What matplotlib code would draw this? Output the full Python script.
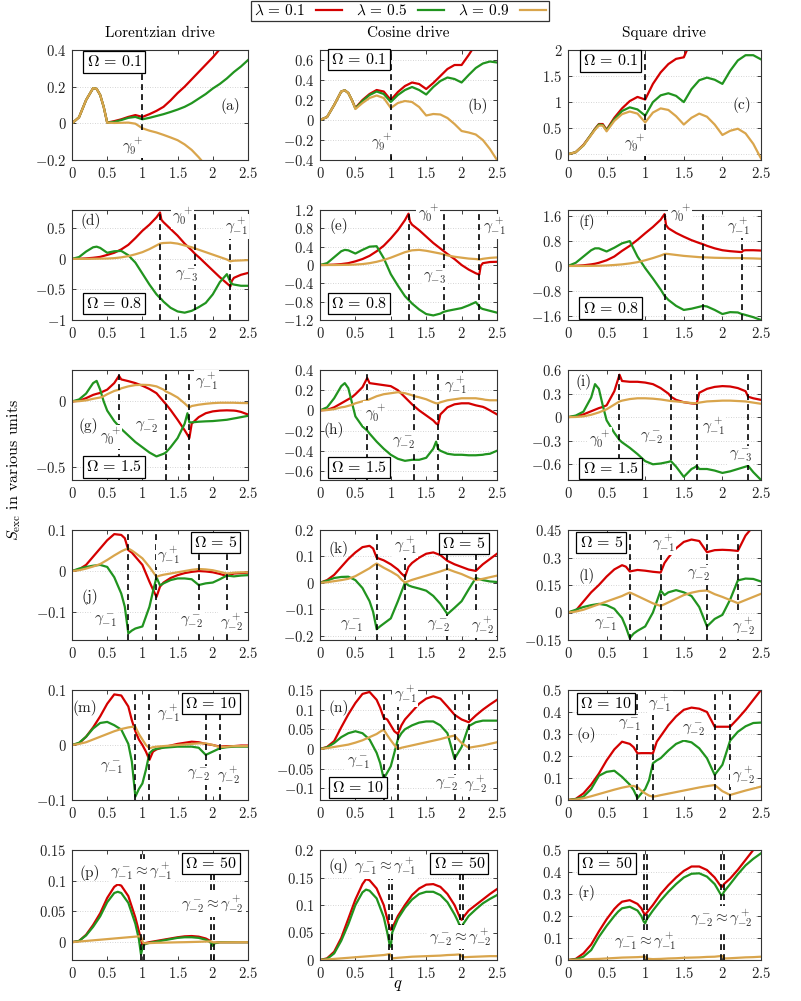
import matplotlib
matplotlib.use("Agg")
import matplotlib.pyplot as plt
from matplotlib.lines import Line2D

plt.rcParams['font.family'] = 'serif'
plt.rcParams['font.serif'] = ['cmr10']
plt.rcParams['mathtext.fontset'] = 'cm'
plt.rcParams['axes.formatter.use_mathtext'] = True

RED = '#d40000'
GREEN = '#21941f'
GOLD = '#d9a54c'

# ---------------- data ----------------
# row 1 (Omega = 0.1)
GRID_ROW1 = [0, 0.1, 0.2, 0.3, 0.35, 0.4, 0.45, 0.5, 0.6, 0.7, 0.8, 0.9, 1.0, 1.1, 1.2,
             1.3, 1.4, 1.5, 1.6, 1.7, 1.8, 1.9, 2.0, 2.1, 2.2, 2.3, 2.4, 2.5]
A_RED = [0, 0.033, 0.127, 0.192, 0.188, 0.155, 0.09, 0.004, 0.012, 0.022, 0.035, 0.045, 0.035, 0.05,
         0.068, 0.09, 0.125, 0.165, 0.2, 0.24, 0.28, 0.32, 0.36, 0.405, 0.46, 0.52, 0.58, 0.65]
A_GREEN = [0, 0.033, 0.127, 0.192, 0.188, 0.155, 0.09, 0.004, 0.008, 0.018, 0.03, 0.035, 0.022, 0.03,
           0.04, 0.05, 0.062, 0.075, 0.09, 0.11, 0.135, 0.16, 0.19, 0.215, 0.245, 0.28, 0.31, 0.345]
A_GOLD = [0, 0.033, 0.127, 0.192, 0.188, 0.155, 0.09, 0.004, 0.002, 0.003, 0.004, -0.002, -0.027, -0.04,
          -0.05, -0.063, -0.077, -0.092, -0.115, -0.145, -0.185, -0.23, -0.28, -0.33, -0.38, -0.43, -0.48, -0.53]
B_RED = [0, 0.03, 0.15, 0.285, 0.297, 0.27, 0.2, 0.12, 0.2, 0.26, 0.3, 0.285, 0.2, 0.28,
         0.34, 0.375, 0.36, 0.31, 0.37, 0.44, 0.51, 0.55, 0.55, 0.65, 0.76, 0.87, 0.98, 1.1]
B_GREEN = [0, 0.03, 0.15, 0.285, 0.297, 0.27, 0.2, 0.115, 0.19, 0.25, 0.285, 0.26, 0.18, 0.25,
           0.3, 0.33, 0.3, 0.255, 0.33, 0.39, 0.425, 0.41, 0.375, 0.45, 0.52, 0.565, 0.585, 0.575]
B_GOLD = [0, 0.03, 0.15, 0.285, 0.297, 0.27, 0.2, 0.11, 0.17, 0.22, 0.245, 0.22, 0.12, 0.17,
          0.19, 0.18, 0.13, 0.045, 0.06, 0.055, 0.02, -0.04, -0.11, -0.125, -0.145, -0.2, -0.29, -0.4]
C_RED = [0, 0.04, 0.18, 0.38, 0.49, 0.58, 0.58, 0.47, 0.7, 0.88, 1.02, 1.1, 1.05, 1.35,
         1.57, 1.73, 1.83, 1.86, 2.2, 2.5, 2.8, 3.0, 3.2, 3.4, 3.6, 3.8, 4.0, 4.2]
C_GREEN = [0, 0.04, 0.17, 0.38, 0.48, 0.57, 0.56, 0.46, 0.67, 0.83, 0.9, 0.86, 0.74, 1.0,
           1.13, 1.17, 1.12, 1.0, 1.25, 1.42, 1.47, 1.43, 1.35, 1.6, 1.8, 1.9, 1.9, 1.82]
C_GOLD = [0, 0.04, 0.17, 0.37, 0.47, 0.55, 0.55, 0.44, 0.64, 0.77, 0.82, 0.78, 0.61, 0.8,
          0.88, 0.85, 0.73, 0.57, 0.7, 0.78, 0.72, 0.57, 0.37, 0.45, 0.49, 0.4, 0.2, -0.08]

# row 2 (Omega = 0.8)
GRID_ROW2 = [0, 0.1, 0.2, 0.3, 0.35, 0.4, 0.5, 0.6, 0.7, 0.8, 0.9, 1.0, 1.1, 1.2, 1.25, 1.27,
             1.3, 1.4, 1.5, 1.6, 1.7, 1.75, 1.8, 1.9, 2.0, 2.1, 2.2, 2.25, 2.27, 2.3, 2.4, 2.5]
D_RED = [0, 0.002, 0.008, 0.018, 0.025, 0.033, 0.065, 0.1, 0.155, 0.23, 0.34, 0.46, 0.56, 0.68, 0.76, 0.64,
         0.6, 0.49, 0.38, 0.25, 0.14, 0.08, 0.03, -0.08, -0.19, -0.3, -0.4, -0.45, -0.36, -0.31, -0.26, -0.23]
D_GREEN = [0, 0.03, 0.12, 0.19, 0.2, 0.18, 0.1, 0.125, 0.13, 0.06, -0.06, -0.24, -0.42, -0.58, -0.64, -0.66,
           -0.7, -0.8, -0.86, -0.88, -0.85, -0.82, -0.79, -0.72, -0.58, -0.38, -0.25, -0.38, -0.41, -0.42, -0.44, -0.44]
D_GOLD = [0, 0, 0, 0.002, 0.003, 0.004, 0.006, 0.012, 0.025, 0.045, 0.075, 0.11, 0.16, 0.22, 0.25, 0.255,
          0.26, 0.265, 0.25, 0.22, 0.19, 0.17, 0.15, 0.11, 0.07, 0.03, -0.01, -0.04, -0.035, -0.03, -0.025, -0.02]
E_RED = [0, 0.002, 0.008, 0.02, 0.03, 0.04, 0.08, 0.13, 0.2, 0.3, 0.42, 0.58, 0.76, 0.98, 1.12, 0.95,
         0.88, 0.76, 0.62, 0.48, 0.36, 0.3, 0.24, 0.13, 0.0, -0.1, -0.18, -0.21, -0.02, 0.04, 0.065, 0.07]
E_GREEN = [0, 0.04, 0.17, 0.3, 0.33, 0.32, 0.25, 0.33, 0.4, 0.41, 0.15, -0.2, -0.45, -0.68, -0.76, -0.79,
           -0.84, -0.97, -1.07, -1.1, -1.06, -1.02, -1.0, -0.97, -0.94, -0.88, -0.81, -0.9, -0.94, -0.96, -1.0, -1.04]
E_GOLD = [0, 0, 0, 0.002, 0.003, 0.004, 0.01, 0.02, 0.04, 0.07, 0.11, 0.16, 0.22, 0.28, 0.3, 0.31,
          0.32, 0.33, 0.31, 0.28, 0.25, 0.23, 0.21, 0.18, 0.16, 0.14, 0.13, 0.12, 0.125, 0.135, 0.155, 0.165]
F_RED = [0, 0.005, 0.02, 0.05, 0.07, 0.1, 0.18, 0.3, 0.48, 0.64, 0.83, 1.04, 1.24, 1.47, 1.65, 1.3,
         1.2, 1.05, 0.93, 0.82, 0.73, 0.69, 0.64, 0.56, 0.5, 0.47, 0.45, 0.44, 0.49, 0.5, 0.5, 0.49]
F_GREEN = [0, 0.1, 0.3, 0.5, 0.56, 0.56, 0.46, 0.58, 0.72, 0.79, 0.3, -0.07, -0.4, -0.75, -0.95, -1.0,
           -1.08, -1.27, -1.4, -1.36, -1.3, -1.27, -1.29, -1.4, -1.53, -1.47, -1.48, -1.53, -1.54, -1.56, -1.63, -1.72]
F_GOLD = [0, 0, 0, 0.003, 0.005, 0.007, 0.015, 0.03, 0.05, 0.08, 0.12, 0.18, 0.25, 0.33, 0.38, 0.385,
          0.38, 0.35, 0.32, 0.3, 0.28, 0.275, 0.27, 0.26, 0.255, 0.25, 0.25, 0.25, 0.25, 0.245, 0.24, 0.23]

# row 3 (Omega = 1.5)
GRID_ROW3 = [0, 0.1, 0.2, 0.3, 0.35, 0.4, 0.45, 0.5, 0.6, 0.667, 0.7, 0.8, 0.9, 1.0, 1.1, 1.2, 1.3,
             1.333, 1.4, 1.5, 1.6, 1.64, 1.667, 1.7, 1.8, 1.9, 2.0, 2.1, 2.2, 2.3, 2.333, 2.4, 2.5]
G_RED = [0, 0.005, 0.025, 0.05, 0.058, 0.065, 0.078, 0.09, 0.14, 0.195, 0.168, 0.155, 0.14, 0.12, 0.095, 0.063, 0.0,
         -0.02, -0.065, -0.14, -0.22, -0.255, -0.28, -0.17, -0.12, -0.09, -0.076, -0.07, -0.068, -0.07, -0.072, -0.08, -0.1]
G_GREEN = [0, 0.015, 0.06, 0.14, 0.157, 0.09, 0.0, -0.07, -0.15, -0.19, -0.21, -0.26, -0.31, -0.35, -0.39, -0.42, -0.4,
           -0.39, -0.35, -0.28, -0.17, -0.09, -0.16, -0.16, -0.155, -0.152, -0.15, -0.145, -0.14, -0.13, -0.127, -0.12, -0.11]
G_GOLD = [0, 0.002, 0.008, 0.02, 0.025, 0.03, 0.04, 0.055, 0.08, 0.09, 0.1, 0.115, 0.125, 0.127, 0.125, 0.115, 0.09,
          0.076, 0.06, 0.03, -0.015, -0.035, -0.046, -0.035, -0.025, -0.018, -0.013, -0.01, -0.01, -0.01, -0.011, -0.012, -0.013]
H_RED = [0, 0.005, 0.03, 0.07, 0.09, 0.11, 0.13, 0.16, 0.23, 0.32, 0.27, 0.26, 0.25, 0.24, 0.2, 0.13, 0.06,
         0.04, 0.0, -0.05, -0.1, -0.13, -0.14, -0.04, 0.03, 0.06, 0.07, 0.07, 0.05, 0.035, 0.025, 0.0, -0.04]
H_GREEN = [0, 0.03, 0.12, 0.24, 0.27, 0.22, 0.08, -0.06, -0.16, -0.2, -0.23, -0.31, -0.38, -0.44, -0.48, -0.5, -0.49,
           -0.49, -0.49, -0.47, -0.38, -0.31, -0.38, -0.4, -0.43, -0.44, -0.44, -0.445, -0.445, -0.44, -0.435, -0.43, -0.4]
H_GOLD = [0, 0.003, 0.012, 0.03, 0.035, 0.045, 0.055, 0.07, 0.09, 0.1, 0.11, 0.14, 0.16, 0.17, 0.18, 0.17, 0.15,
          0.14, 0.13, 0.11, 0.08, 0.07, 0.07, 0.08, 0.1, 0.11, 0.12, 0.12, 0.12, 0.11, 0.105, 0.1, 0.1]
I_RED = [0, 0.01, 0.035, 0.075, 0.095, 0.115, 0.13, 0.15, 0.33, 0.54, 0.46, 0.45, 0.45, 0.44, 0.42, 0.37, 0.3,
         0.26, 0.22, 0.19, 0.175, 0.172, 0.17, 0.31, 0.36, 0.385, 0.395, 0.39, 0.37, 0.33, 0.26, 0.24, 0.22]
I_GREEN = [0, 0.02, 0.07, 0.25, 0.42, 0.36, 0.15, -0.04, -0.2, -0.29, -0.32, -0.39, -0.47, -0.56, -0.6, -0.59, -0.57,
           -0.56, -0.63, -0.76, -0.66, -0.64, -0.62, -0.66, -0.66, -0.68, -0.71, -0.69, -0.66, -0.63, -0.62, -0.7, -0.8]
I_GOLD = [0, 0.002, 0.01, 0.03, 0.045, 0.06, 0.08, 0.1, 0.16, 0.2, 0.21, 0.23, 0.24, 0.24, 0.235, 0.225, 0.21,
          0.205, 0.2, 0.19, 0.18, 0.178, 0.175, 0.185, 0.2, 0.205, 0.21, 0.21, 0.205, 0.2, 0.195, 0.185, 0.17]

# row 4 (Omega = 5)
GRID_ROW4 = [0, 0.1, 0.2, 0.3, 0.4, 0.5, 0.6, 0.7, 0.75, 0.8, 0.85, 0.9, 1.0, 1.1, 1.15, 1.2, 1.25,
             1.3, 1.4, 1.5, 1.6, 1.7, 1.8, 1.9, 2.0, 2.1, 2.2, 2.3, 2.4, 2.5]
J_RED = [0, 0.004, 0.015, 0.035, 0.055, 0.075, 0.09, 0.088, 0.08, 0.051, 0.045, 0.035, 0.015, -0.026, -0.045,
         -0.063, -0.038, -0.028, -0.017, -0.01, -0.005, -0.002, 0.0, -0.001, -0.003, -0.007, -0.012, -0.006, -0.005, -0.004]
J_GREEN = [0, 0.006, 0.01, 0.013, 0.015, 0.01, -0.015, -0.055, -0.087, -0.152, -0.145, -0.14, -0.135, -0.087, -0.05,
           -0.015, -0.035, -0.03, -0.022, -0.018, -0.018, -0.02, -0.034, -0.03, -0.028, -0.02, -0.011, -0.013, -0.011, -0.01]
J_GOLD = [0, 0.002, 0.006, 0.011, 0.017, 0.027, 0.038, 0.048, 0.052, 0.055, 0.05, 0.044, 0.031, 0.01, -0.002,
          -0.014, -0.011, -0.009, -0.006, -0.003, 0.0, 0.003, 0.005, 0.004, 0.002, -0.002, -0.006, -0.004, -0.003, -0.003]
K_RED = [0, 0.01, 0.03, 0.06, 0.09, 0.115, 0.135, 0.14, 0.13, 0.095, 0.09, 0.085, 0.07, 0.05, 0.035,
         0.023, 0.06, 0.075, 0.095, 0.11, 0.115, 0.105, 0.083, 0.07, 0.06, 0.05, 0.045, 0.07, 0.09, 0.11]
K_GREEN = [0, 0.008, 0.018, 0.022, 0.023, 0.01, -0.02, -0.07, -0.11, -0.176, -0.165, -0.155, -0.135, -0.07, -0.035,
           0.0, -0.01, -0.015, -0.022, -0.03, -0.05, -0.08, -0.119, -0.095, -0.07, -0.025, 0.018, 0.01, 0.005, 0.003]
K_GOLD = [0, 0.002, 0.006, 0.01, 0.015, 0.025, 0.04, 0.055, 0.065, 0.073, 0.065, 0.057, 0.043, 0.027, 0.012,
          0.001, 0.006, 0.011, 0.019, 0.027, 0.035, 0.043, 0.052, 0.042, 0.033, 0.021, 0.01, 0.015, 0.021, 0.027]
L_RED = [0, 0.01, 0.06, 0.11, 0.15, 0.196, 0.235, 0.258, 0.25, 0.224, 0.228, 0.232, 0.228, 0.222, 0.22,
         0.218, 0.27, 0.3, 0.35, 0.385, 0.398, 0.39, 0.329, 0.34, 0.342, 0.34, 0.336, 0.42, 0.47, 0.52]
L_GREEN = [0, 0.015, 0.03, 0.04, 0.047, 0.04, 0.02, -0.03, -0.08, -0.14, -0.115, -0.1, -0.076, 0.0, 0.06,
           0.12, 0.095, 0.11, 0.122, 0.11, 0.09, 0.03, -0.076, -0.035, -0.013, 0.07, 0.175, 0.185, 0.183, 0.169]
L_GOLD = [0, 0.005, 0.015, 0.03, 0.045, 0.06, 0.075, 0.09, 0.1, 0.109, 0.1, 0.09, 0.07, 0.05, 0.043,
          0.036, 0.045, 0.055, 0.075, 0.095, 0.108, 0.117, 0.12, 0.1, 0.085, 0.068, 0.051, 0.068, 0.085, 0.102]

# row 5 (Omega = 10)
GRID_ROW5 = [0, 0.1, 0.2, 0.3, 0.4, 0.5, 0.6, 0.7, 0.8, 0.85, 0.9, 0.95, 1.0, 1.05, 1.1, 1.15, 1.2,
             1.3, 1.4, 1.5, 1.6, 1.7, 1.8, 1.9, 2.0, 2.1, 2.2, 2.3, 2.4, 2.5]
M_RED = [0, 0.003, 0.015, 0.032, 0.052, 0.075, 0.092, 0.09, 0.07, 0.045, 0.025, 0.01, 0.0, -0.012, -0.027,
         -0.012, -0.008, -0.004, -0.001, 0.002, 0.004, 0.006, 0.005, 0.002, 0.0, -0.003, -0.002, -0.002, -0.001, -0.001]
M_GREEN = [0, 0.004, 0.015, 0.03, 0.04, 0.042, 0.036, 0.028, 0.002, -0.03, -0.094, -0.08, -0.07, -0.045, -0.015,
           -0.009, -0.007, -0.005, -0.004, -0.003, -0.003, -0.003, -0.005, -0.018, -0.012, -0.006, -0.004, -0.003, -0.003, -0.003]
M_GOLD = [0, 0.002, 0.005, 0.01, 0.015, 0.02, 0.025, 0.029, 0.032, 0.033, 0.033, 0.02, 0.01, 0.0, -0.006,
          -0.004, -0.003, -0.002, -0.001, 0.0, 0.001, 0.002, 0.003, 0.003, 0.0, -0.004, -0.003, -0.002, -0.002, -0.002]
N_RED = [0, 0.005, 0.02, 0.055, 0.088, 0.117, 0.14, 0.145, 0.125, 0.105, 0.079, 0.075, 0.06, 0.045, 0.038,
         0.06, 0.075, 0.095, 0.115, 0.128, 0.134, 0.128, 0.108, 0.087, 0.075, 0.068, 0.085, 0.1, 0.113, 0.125]
N_GREEN = [0, 0.004, 0.015, 0.03, 0.04, 0.045, 0.04, 0.024, -0.01, -0.036, -0.076, -0.06, -0.044, -0.01, 0.025,
           0.04, 0.05, 0.06, 0.067, 0.07, 0.07, 0.06, 0.04, -0.025, 0.005, 0.058, 0.068, 0.072, 0.072, 0.072]
N_GOLD = [0, 0.002, 0.005, 0.008, 0.011, 0.016, 0.022, 0.03, 0.038, 0.044, 0.049, 0.035, 0.022, 0.01, 0.0,
          0.003, 0.005, 0.009, 0.013, 0.017, 0.021, 0.025, 0.03, 0.034, 0.015, 0.003, 0.006, 0.009, 0.013, 0.017]
O_RED = [0, 0.005, 0.03, 0.07, 0.12, 0.18, 0.23, 0.265, 0.255, 0.24, 0.212, 0.213, 0.213, 0.213, 0.212,
         0.265, 0.29, 0.34, 0.38, 0.41, 0.42, 0.415, 0.4, 0.333, 0.333, 0.333, 0.37, 0.41, 0.455, 0.5]
O_GREEN = [0, 0.004, 0.015, 0.05, 0.11, 0.128, 0.133, 0.105, 0.07, 0.045, 0.008, 0.03, 0.05, 0.09, 0.167,
           0.18, 0.19, 0.225, 0.255, 0.27, 0.262, 0.235, 0.19, 0.114, 0.16, 0.27, 0.31, 0.335, 0.35, 0.352]
O_GOLD = [0, 0.002, 0.008, 0.017, 0.027, 0.037, 0.047, 0.056, 0.063, 0.064, 0.058, 0.042, 0.03, 0.02, 0.015,
          0.018, 0.022, 0.029, 0.036, 0.043, 0.05, 0.057, 0.063, 0.068, 0.04, 0.023, 0.033, 0.043, 0.052, 0.061]

# row 6 (Omega = 50)
GRID_ROW6 = [0, 0.1, 0.2, 0.3, 0.4, 0.5, 0.6, 0.65, 0.7, 0.8, 0.9, 0.95, 0.98, 1.0, 1.02, 1.1, 1.2,
             1.3, 1.4, 1.5, 1.6, 1.7, 1.8, 1.9, 1.95, 1.98, 2.0, 2.02, 2.1, 2.2, 2.3, 2.4, 2.5]
P_RED = [0, 0.002, 0.012, 0.028, 0.047, 0.072, 0.09, 0.094, 0.092, 0.075, 0.04, 0.018, 0.004, -0.004, -0.002, 0.0,
         0.002, 0.004, 0.006, 0.008, 0.0095, 0.01, 0.009, 0.006, 0.003, 0.0, -0.003, -0.001, 0.0, 0.0, 0.0, 0.0, 0.0]
P_GREEN = [0, 0.002, 0.011, 0.025, 0.042, 0.065, 0.08, 0.082, 0.08, 0.064, 0.03, 0.005, -0.02, -0.01, -0.004, -0.001,
           0.001, 0.003, 0.005, 0.007, 0.008, 0.008, 0.007, 0.004, 0.001, -0.002, -0.006, -0.002, 0.0, 0.0, 0.0, 0.0, 0.0]
P_GOLD = [0, 0.001, 0.002, 0.003, 0.004, 0.005, 0.006, 0.0065, 0.007, 0.008, 0.009, 0.0095, 0.009, 0.002, -0.002, -0.0015,
          -0.001, -0.0008, -0.0005, -0.0002, 0.0, 0.0003, 0.0006, 0.001, 0.0012, 0.001, 0.0, -0.0004, -0.0003, -0.0002, -0.0001, 0.0, 0.0]
Q_RED = [0, 0.003, 0.015, 0.04, 0.075, 0.11, 0.138, 0.147, 0.145, 0.13, 0.1, 0.075, 0.06, 0.055, 0.058, 0.08,
         0.1, 0.118, 0.13, 0.137, 0.138, 0.133, 0.12, 0.1, 0.085, 0.076, 0.073, 0.077, 0.09, 0.1, 0.11, 0.12, 0.129]
Q_GREEN = [0, 0.002, 0.012, 0.035, 0.065, 0.1, 0.123, 0.128, 0.126, 0.112, 0.078, 0.05, 0.03, 0.024, 0.05, 0.075,
           0.095, 0.11, 0.12, 0.124, 0.124, 0.118, 0.105, 0.083, 0.07, 0.06, 0.058, 0.065, 0.08, 0.092, 0.103, 0.111, 0.118]
Q_GOLD = [0, 0.001, 0.002, 0.003, 0.004, 0.005, 0.006, 0.0065, 0.007, 0.008, 0.009, 0.01, 0.011, 0.009, 0.003, 0.004,
          0.005, 0.006, 0.0065, 0.007, 0.0075, 0.008, 0.009, 0.0095, 0.01, 0.01, 0.007, 0.005, 0.0055, 0.006, 0.0065, 0.007, 0.007]
R_RED = [0, 0.005, 0.03, 0.07, 0.13, 0.185, 0.232, 0.25, 0.265, 0.272, 0.255, 0.235, 0.215, 0.205, 0.215, 0.25,
         0.3, 0.34, 0.375, 0.405, 0.425, 0.425, 0.409, 0.375, 0.35, 0.335, 0.333, 0.345, 0.37, 0.41, 0.455, 0.5, 0.54]
R_GREEN = [0, 0.003, 0.015, 0.045, 0.105, 0.155, 0.2, 0.22, 0.235, 0.242, 0.225, 0.2, 0.175, 0.167, 0.185, 0.225,
           0.27, 0.31, 0.345, 0.375, 0.392, 0.394, 0.379, 0.345, 0.315, 0.297, 0.295, 0.31, 0.345, 0.39, 0.43, 0.46, 0.485]
R_GOLD = [0, 0.001, 0.002, 0.004, 0.005, 0.007, 0.009, 0.01, 0.011, 0.012, 0.013, 0.014, 0.015, 0.015, 0.006, 0.004,
          0.005, 0.007, 0.008, 0.01, 0.011, 0.012, 0.014, 0.015, 0.017, 0.018, 0.018, 0.007, 0.008, 0.01, 0.012, 0.013, 0.015]

OMEGAS = ['0.1', '0.8', '1.5', '5', '10', '50']
COLUMN_TITLES = ['Lorentzian drive', 'Cosine drive', 'Square drive']
LEGEND_LABELS = [r'$\lambda\,=\,0.1$', r'$\lambda\,=\,0.5$', r'$\lambda\,=\,0.9$']
XTICKS = [0, 0.5, 1, 1.5, 2, 2.5]

G9P = r'$\gamma_9^+$'
G0P = r'$\gamma_0^+$'
GM1P = r'$\gamma_{-1}^+$'
GM1M = r'$\gamma_{-1}^-$'
GM2P = r'$\gamma_{-2}^+$'
GM2M = r'$\gamma_{-2}^-$'
GM3M = r'$\gamma_{-3}^-$'
APPROX1 = r'$\gamma_{-1}^- \approx \gamma_{-1}^+$'
APPROX2 = r'$\gamma_{-2}^- \approx \gamma_{-2}^+$'

# panel layout / annotation specs
PANELS = [
    # row 1
    dict(tag='a', x=GRID_ROW1, d=(A_RED, A_GREEN, A_GOLD), ylim=(-0.2, 0.4), yt=[-0.2, 0, 0.2, 0.4],
         vl=[1.0], om=(0.6, 0.335), tg=(2.25, 0.095), gm=[(G9P, 0.86, -0.125)]),
    dict(tag='b', x=GRID_ROW1, d=(B_RED, B_GREEN, B_GOLD), ylim=(-0.4, 0.7), yt=[-0.4, -0.2, 0, 0.2, 0.4, 0.6],
         vl=[1.0], om=(0.55, 0.605), tg=(2.23, 0.14), gm=[(G9P, 0.86, -0.22)]),
    dict(tag='c', x=GRID_ROW1, d=(C_RED, C_GREEN, C_GOLD), ylim=(-0.11, 2.0), yt=[0, 0.5, 1, 1.5, 2],
         vl=[1.0], om=(0.55, 1.79), tg=(2.25, 0.95), gm=[(G9P, 0.86, 0.2)]),
    # row 2
    dict(tag='d', x=GRID_ROW2, d=(D_RED, D_GREEN, D_GOLD), ylim=(-1.0, 0.8), yt=[-1, -0.5, 0, 0.5],
         vl=[1.25, 1.75, 2.25], om=(0.6, -0.73), tg=(0.26, 0.62),
         gm=[(G0P, 1.57, 0.69), (GM3M, 1.63, -0.27), (GM1P, 2.33, 0.53)]),
    dict(tag='e', x=GRID_ROW2, d=(E_RED, E_GREEN, E_GOLD), ylim=(-1.2, 1.2),
         yt=[-1.2, -0.8, -0.4, 0, 0.4, 0.8, 1.2],
         vl=[1.25, 1.75, 2.25], om=(0.55, -0.84), tg=(0.26, 0.84),
         gm=[(G0P, 1.53, 1.12), (GM3M, 1.62, -0.27), (GM1P, 2.47, 0.84)]),
    dict(tag='f', x=GRID_ROW2, d=(F_RED, F_GREEN, F_GOLD), ylim=(-1.72, 1.78), yt=[-1.6, -0.8, 0, 0.8, 1.6],
         vl=[1.25, 1.75, 2.25], om=(0.55, -1.34), tg=(0.24, 1.41),
         gm=[(G0P, 1.45, 1.66), (GM1P, 2.21, 1.26)]),
    # row 3
    dict(tag='g', x=GRID_ROW3, d=(G_RED, G_GREEN, G_GOLD), ylim=(-0.6, 0.24), yt=[-0.5, 0],
         vl=[2 / 3, 4 / 3, 5 / 3], om=(0.6, -0.5), tg=(0.23, -0.19),
         gm=[(G0P, 0.54, -0.27), (GM2M, 1.06, -0.19), (GM1P, 1.91, 0.15)]),
    dict(tag='h', x=GRID_ROW3, d=(H_RED, H_GREEN, H_GOLD), ylim=(-0.69, 0.4),
         yt=[-0.6, -0.4, -0.2, 0, 0.2, 0.4],
         vl=[2 / 3, 4 / 3, 5 / 3], om=(0.55, -0.565), tg=(0.19, -0.19),
         gm=[(G0P, 0.78, -0.03), (GM2M, 1.18, -0.32), (GM1P, 1.91, 0.25)]),
    dict(tag='i', x=GRID_ROW3, d=(I_RED, I_GREEN, I_GOLD), ylim=(-0.8, 0.6), yt=[-0.6, -0.3, 0, 0.3, 0.6],
         vl=[2 / 3, 4 / 3, 5 / 3, 7 / 3], om=(0.55, -0.655), tg=(0.2, 0.45),
         gm=[(G0P, 0.41, -0.28), (GM2M, 1.08, -0.26), (GM1P, 1.88, -0.12), (GM3M, 2.23, -0.49)]),
    # row 4
    dict(tag='j', x=GRID_ROW4, d=(J_RED, J_GREEN, J_GOLD), ylim=(-0.168, 0.1), yt=[-0.1, 0, 0.1],
         vl=[0.8, 1.2, 1.8, 2.2], om=(2.04, 0.07), tg=(0.26, -0.063),
         gm=[(GM1M, 0.47, -0.12), (GM1P, 1.37, 0.039), (GM2M, 1.7, -0.124), (GM2P, 2.26, -0.124)]),
    dict(tag='k', x=GRID_ROW4, d=(K_RED, K_GREEN, K_GOLD), ylim=(-0.217, 0.2), yt=[-0.2, -0.1, 0, 0.1, 0.2],
         vl=[0.8, 1.2, 1.8, 2.2], om=(2.03, 0.148), tg=(0.26, 0.128),
         gm=[(GM1M, 0.45, -0.163), (GM1P, 1.2, 0.14), (GM2M, 1.67, -0.163), (GM2P, 2.3, -0.163)]),
    dict(tag='l', x=GRID_ROW4, d=(L_RED, L_GREEN, L_GOLD), ylim=(-0.15, 0.45), yt=[-0.15, 0, 0.15, 0.3, 0.45],
         vl=[0.8, 1.2, 1.8, 2.2], om=(0.43, 0.383), tg=(0.24, 0.2),
         gm=[(GM1M, 0.48, -0.067), (GM1P, 1.23, 0.378), (GM2M, 1.69, 0.205), (GM2P, 2.27, -0.076)]),
    # row 5
    dict(tag='m', x=GRID_ROW5, d=(M_RED, M_GREEN, M_GOLD), ylim=(-0.1, 0.1), yt=[-0.1, 0, 0.1],
         vl=[0.9, 1.1, 1.9, 2.1], om=(1.97, 0.076), tg=(0.18, 0.067),
         gm=[(GM1M, 0.56, -0.042), (GM1P, 1.37, 0.058), (GM2M, 1.79, -0.055), (GM2P, 2.22, -0.055)]),
    dict(tag='n', x=GRID_ROW5, d=(N_RED, N_GREEN, N_GOLD), ylim=(-0.13, 0.15),
         yt=[-0.1, -0.05, 0, 0.05, 0.1, 0.15],
         vl=[0.9, 1.1, 1.9, 2.1], om=(0.53, -0.098), tg=(0.26, 0.105),
         gm=[(GM1M, 0.54, -0.036), (GM1P, 1.2, 0.138), (GM2M, 1.79, -0.091), (GM2P, 2.2, -0.091)]),
    dict(tag='o', x=GRID_ROW5, d=(O_RED, O_GREEN, O_GOLD), ylim=(0, 0.5), yt=[0, 0.1, 0.2, 0.3, 0.4, 0.5],
         vl=[0.9, 1.1, 1.9, 2.1], om=(0.49, 0.44), tg=(0.24, 0.295),
         gm=[(GM1M, 0.8, 0.34), (GM1P, 1.19, 0.44), (GM2M, 1.62, 0.318), (GM2P, 2.27, 0.114)]),
    # row 6
    dict(tag='p', x=GRID_ROW6, d=(P_RED, P_GREEN, P_GOLD), ylim=(-0.029, 0.15), yt=[0, 0.05, 0.1, 0.15],
         vl=[0.98, 1.02, 1.98, 2.02], om=(1.97, 0.128), tg=(0.25, 0.112),
         gm=[(APPROX1, 0.99, 0.115), (APPROX2, 2.0, 0.061)]),
    dict(tag='q', x=GRID_ROW6, d=(Q_RED, Q_GREEN, Q_GOLD), ylim=(0, 0.2), yt=[0, 0.05, 0.1, 0.15, 0.2],
         vl=[0.98, 1.02, 1.98, 2.02], om=(1.97, 0.175), tg=(0.26, 0.17),
         gm=[(APPROX1, 0.92, 0.17), (APPROX2, 1.98, 0.042)]),
    dict(tag='r', x=GRID_ROW6, d=(R_RED, R_GREEN, R_GOLD), ylim=(0, 0.5), yt=[0, 0.1, 0.2, 0.3, 0.4, 0.5],
         vl=[0.98, 1.02, 1.98, 2.02], om=(0.5, 0.44), tg=(0.24, 0.303),
         gm=[(APPROX1, 1.0, 0.083), (APPROX2, 1.99, 0.19)]),
]

# axes geometry in pixels
W, H = 801, 1001
COL_LEFT = [72, 320, 568]
COL_WIDTH = [176, 177, 193]
ROW_TOP = [50, 210, 370, 530, 690, 850]
AX_H = 110


def tick_label(v):
    return '$%g$' % v


fig = plt.figure(figsize=(W / 100, H / 100), dpi=100)

for i, sp in enumerate(PANELS):
    row, col = divmod(i, 3)
    ax = fig.add_axes([COL_LEFT[col] / W, 1 - (ROW_TOP[row] + AX_H) / H,
                       COL_WIDTH[col] / W, AX_H / H])
    red, green, gold = sp['d']
    ax.plot(sp['x'], red, color=RED, lw=1.6, zorder=2)
    ax.plot(sp['x'], green, color=GREEN, lw=1.6, zorder=2.1)
    ax.plot(sp['x'], gold, color=GOLD, lw=1.6, zorder=2.2)
    for g in sp['vl']:
        ax.axvline(g, color='black', lw=1.2, ls=(0, (3.5, 2.5)), zorder=3)

    ax.set_xlim(0, 2.5)
    ax.set_ylim(*sp['ylim'])
    ax.set_xticks(XTICKS)
    ax.set_xticklabels([tick_label(v) for v in XTICKS])
    ax.set_yticks(sp['yt'])
    ax.set_yticklabels([tick_label(v) for v in sp['yt']])
    ax.tick_params(direction='in', top=True, right=True, length=3, width=0.6,
                   labelsize=10.5, pad=4, colors='#222222')
    ax.yaxis.grid(True, color='#c8c8c8', ls=(0, (1, 2)), lw=0.6)
    ax.set_axisbelow(True)
    for s in ax.spines.values():
        s.set_linewidth(0.8)
        s.set_color('#333333')

    ax.text(sp['om'][0], sp['om'][1], r'$\Omega\,=\,%s$' % OMEGAS[row], ha='center', va='center',
            fontsize=11.5, zorder=7,
            bbox=dict(boxstyle='square,pad=0.2', fc='white', ec='black', lw=0.9))
    ax.text(sp['tg'][0], sp['tg'][1], '(%s)' % sp['tag'], ha='center', va='center',
            fontsize=11, color='#222222', zorder=6)
    for txt, gx, gy in sp['gm']:
        ax.text(gx, gy, txt, ha='center', va='center', fontsize=11, color='#333333',
                zorder=6, clip_on=False,
                bbox=dict(boxstyle='square,pad=0.1', fc='white', ec='none'))

# column titles
for col, title in enumerate(COLUMN_TITLES):
    cx = (COL_LEFT[col] + COL_WIDTH[col] / 2) / W
    fig.text(cx, 1 - 33 / H, title, ha='center', va='center', fontsize=11)

# axis labels
fig.text(14 / W, 1 - 470 / H, r'$S_{\mathrm{exc}}$ in various units', rotation=90,
         ha='center', va='center', fontsize=11.5)
fig.text(398 / W, 1 - 985 / H, r'$q$', ha='center', va='center', fontsize=12)

# legend
handles = [Line2D([], [], color=c, lw=1.6) for c in (RED, GREEN, GOLD)]
leg = fig.legend(handles, LEGEND_LABELS, loc='center', bbox_to_anchor=(400 / W, 1 - 11 / H),
                 ncol=3, markerfirst=False, frameon=True, fancybox=False, edgecolor='black',
                 fontsize=11, handlelength=1.7, handletextpad=0.7, columnspacing=0.9,
                 borderpad=0.2, borderaxespad=0)
leg.get_frame().set_linewidth(0.9)

fig.savefig('out.png', dpi=100)
